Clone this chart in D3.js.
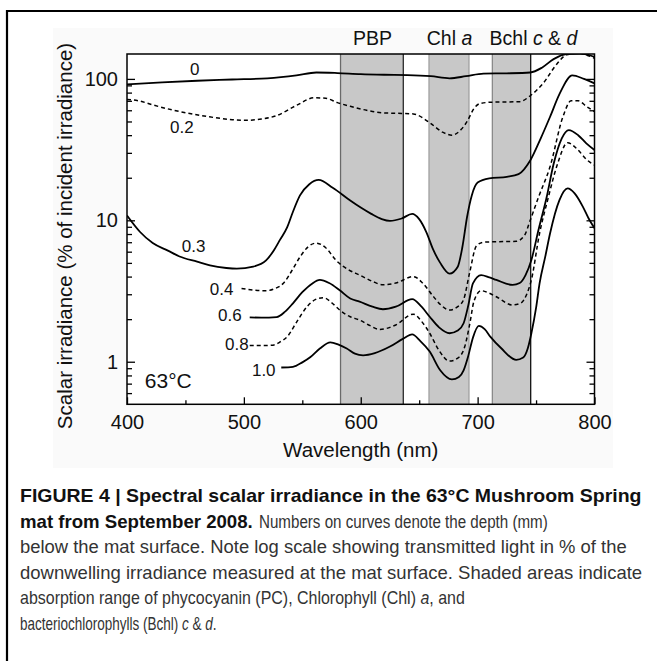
<!DOCTYPE html>
<html>
<head>
<meta charset="utf-8">
<script src="https://cdn.jsdelivr.net/npm/d3@7"></script>
<style>
html,body{margin:0;padding:0;background:#fff;}
svg{display:block;font-family:"Liberation Sans",Arial,Helvetica,sans-serif;}
</style>
</head>
<body>
<svg id="chart" width="657" height="661"></svg>
<script>
// ---------------- DATA ----------------
const depthLabels = ["0", "0.2", "0.3", "0.4", "0.6", "0.8", "1.0"];
const dashedDepth = [false, true, false, true, false, true, false];

const wl_0   = [400,430,460,490,520,545,562,580,600,620,640,660,676,690,705,725,745,755,765,776,788,796,800];
const irr_0  = [91.5,94.5,97,99,101,106,111,110,108,107,106.5,104.5,101,104.5,109,109.5,111,120,138,150,151,147,143];

const wl_02  = [400,410,422,440,451,470,490,502,515,528,545,560,570,580,591,605,619,635,645,659,670,678,686,691,697,702,713,736,745,756,768,776,785,800];
const irr_02 = [71.5,70,65.5,60,57.5,54,51.5,51,52,55,65,73.5,73,68,64,60,57.5,57,56.5,49,42,40,44,50,62,67,68.5,69,76,93,128,148,152,140];

const wl_03  = [400,411,422,435,445,460,471,485,494,508,519,526,531,537,542,548,556,564,576,591,600,609,618,625,635,644,650,656,662,668,676,683,687,691,695,700,710,725,735,745,754,762,770,781,791,800];
const irr_03 = [10.8,8.3,6.9,6.1,5.55,5.1,4.8,4.6,4.55,4.7,5.2,6.2,7.3,8.9,11.5,15,18,19.3,17,13.8,12.3,11.1,10.2,9.9,10.3,11.1,10.2,8.3,6.2,5.0,4.2,4.7,6.5,10.6,15,18.5,19.8,20.3,21.2,26.5,38,54,78,106,100,93];

const wl_04  = [498,510,519,527,534,541,548,555,562,570,579,590,599,610,619,630,645,653,662,669,676,683,688,693,699,705,715,733,740,745,752,762,773,780,786,793,800];
const irr_04 = [3.3,3.2,3.18,3.3,3.6,4.4,5.5,6.5,6.9,6.4,5.2,4.45,4.1,3.7,3.5,3.6,4.0,3.6,2.9,2.5,2.32,2.45,2.75,4.2,6.6,7.0,7.05,7.1,7.8,10,14.5,24,54,70,70,64,58.6];

const wl_06  = [505,515,528,535,542,550,558,565,573,582,591,599,610,619,630,644,652,659,667,676,683,688,692,696,703,710,716,730,736,741,746,752,759,765,772,778,786,793,800];
const irr_06 = [2.06,2.05,2.07,2.25,2.59,3.1,3.55,3.79,3.6,3.2,2.8,2.66,2.45,2.35,2.45,2.77,2.45,2.08,1.75,1.59,1.66,1.87,2.5,3.58,4.1,3.95,3.79,3.49,3.6,4.1,5.24,8.5,14.5,25,38,43.5,40,35,31.4];

const wl_08  = [505,515,525,531,537,545,554,561,568,575,582,591,599,608,616,630,645,652,659,667,676,683,689,693,697,703,710,716,730,737,742,746,753,760,768,777,785,793,800];
const irr_08 = [1.30,1.30,1.31,1.38,1.50,1.9,2.45,2.75,2.84,2.62,2.32,2.08,1.97,1.8,1.69,1.82,2.17,1.93,1.59,1.2,1.01,1.06,1.28,1.8,2.7,3.18,3.05,2.88,2.52,2.6,3.0,3.8,8.1,14,24.5,35.4,32,27,24.6];

const wl_10  = [532,542,550,557,565,574,581,588,595,602,612,625,636,644,651,659,668,678,684,688,692,696,701,706,711,720,733,739,743,746,750,753,758,762,770,777,783,790,795,800];
const irr_10 = [0.91,0.92,0.99,1.08,1.24,1.37,1.32,1.24,1.14,1.11,1.15,1.28,1.45,1.56,1.4,1.18,0.87,0.75,0.78,0.87,1.1,1.48,1.79,1.7,1.5,1.25,1.03,1.07,1.25,1.59,2.4,3.58,5.6,8.1,13.9,16.8,15.5,12.5,10.3,8.8];

const seriesWl  = [wl_0, wl_02, wl_03, wl_04, wl_06, wl_08, wl_10];
const seriesIrr = [irr_0, irr_02, irr_03, irr_04, irr_06, irr_08, irr_10];

// curve label anchors (data coordinates: wavelength, % irradiance)
const labelWl  = [458, 447, 457, 481, 488, 494, 517];
const labelIrr = [117.6, 45.9, 6.58, 3.30, 2.14, 1.334, 0.873];

// absorption bands
const bandNames = ["PBP", "Chl a", "Bchl c & d"];
const bandStart = [582.7, 658.4, 712.6];
const bandEnd   = [636.4, 692.6, 745.4];

const xTicksMajor = [400, 500, 600, 700, 800];
const xTicksMinor = [450, 550, 650, 750];
const yTicksMajor = [1, 10, 100];
const yTicksMinor = [0.6,0.7,0.8,0.9,2,3,4,5,6,7,8,9,20,30,40,50,60,70,80,90];

// ---------------- DRAW ----------------
const svg = d3.select("#chart");
const L = 127, R = 594.5, T = 54, B = 404.3;
const x = d3.scaleLinear().domain([400, 800]).range([L, R]);
const y = d3.scaleLog().domain([0.5, 150]).range([B, T]);

// page frame
svg.append("line").attr("x1", 7).attr("x2", 657).attr("y1", 11).attr("y2", 11)
  .attr("stroke", "#000").attr("stroke-width", 2.2);
svg.append("line").attr("x1", 7).attr("x2", 7).attr("y1", 10).attr("y2", 661)
  .attr("stroke", "#000").attr("stroke-width", 2.2);

// faint figure background
svg.append("rect").attr("x", 53).attr("y", 28).attr("width", 560).attr("height", 440)
  .attr("fill", "#fafafa");
svg.append("rect").attr("x", L).attr("y", T).attr("width", R - L).attr("height", B - T)
  .attr("fill", "#fff");

svg.append("clipPath").attr("id", "clip").append("rect")
  .attr("x", L).attr("y", T).attr("width", R - L).attr("height", B - T);

// bands
const bandL = ["#6a6a6a", "#a0a0a0", "#8a8a8a"];
const bandR = ["#2a2a2a", "#a0a0a0", "#111"];
bandNames.forEach((n, i) => {
  svg.append("rect").attr("x", x(bandStart[i])).attr("y", T)
    .attr("width", x(bandEnd[i]) - x(bandStart[i])).attr("height", B - T)
    .attr("fill", "#c8c8c8");
  svg.append("line").attr("x1", x(bandStart[i])).attr("x2", x(bandStart[i]))
    .attr("y1", T).attr("y2", B).attr("stroke", bandL[i]).attr("stroke-width", 1.3);
  svg.append("line").attr("x1", x(bandEnd[i])).attr("x2", x(bandEnd[i]))
    .attr("y1", T).attr("y2", B).attr("stroke", bandR[i]).attr("stroke-width", 1.3);
});

// band labels (names with italic letters)
const bl = svg.append("g").attr("font-size", 19.5).attr("fill", "#111").attr("text-anchor", "middle");
const bandLabelCx = [372.5, 449.5, 533.5];
bandNames.forEach((n, i) => {
  const t = bl.append("text").attr("x", bandLabelCx[i]).attr("y", 45);
  n.split(/(\b[acd]\b)/).forEach(part => {
    if (!part) return;
    const it = /^[acd]$/.test(part);
    t.append("tspan").attr("font-style", it ? "italic" : null).text(part);
  });
});

// curves
const line = d3.line().x(d => x(d[0])).y(d => y(d[1])).curve(d3.curveMonotoneX);
const cg = svg.append("g").attr("clip-path", "url(#clip)");
seriesWl.forEach((wl, i) => {
  const pts = wl.map((w, k) => [w, seriesIrr[i][k]]);
  cg.append("path").attr("d", line(pts)).attr("fill", "none")
    .attr("stroke", "#000")
    .attr("stroke-width", dashedDepth[i] ? 1.5 : 1.8)
    .attr("stroke-dasharray", dashedDepth[i] ? "4,3" : null)
    .attr("stroke-linejoin", "round");
});

// curve labels
const lg = svg.append("g").attr("font-size", 17).attr("fill", "#111").attr("text-anchor", "middle");
depthLabels.forEach((t, i) => {
  lg.append("text").attr("x", x(labelWl[i])).attr("y", y(labelIrr[i])).attr("dy", "0.36em").text(t);
});
svg.append("text").attr("x", x(435.3)).attr("y", y(0.743)).attr("dy", "0.36em")
  .attr("text-anchor", "middle").attr("font-size", 21).attr("fill", "#111").text("63°C");

// axes
function styleAxis(g) {
  g.select(".domain").remove();
  g.selectAll(".tick line").attr("stroke", "#000").attr("stroke-width", 1.3);
  g.selectAll(".tick text").attr("font-size", 20).attr("fill", "#111")
    .attr("font-family", "Liberation Sans, Arial, sans-serif");
}
svg.append("g").attr("transform", `translate(0,${B})`)
  .call(d3.axisBottom(x).tickValues(xTicksMajor).tickSize(-7).tickPadding(11).tickFormat(d3.format("d")))
  .call(styleAxis);
svg.append("g").attr("transform", `translate(0,${B})`)
  .call(d3.axisBottom(x).tickValues(xTicksMinor).tickSize(-4).tickFormat(""))
  .call(styleAxis);
svg.append("g").attr("transform", `translate(${L},0)`)
  .call(d3.axisLeft(y).tickValues(yTicksMajor).tickSize(-8).tickPadding(9).tickFormat(d3.format("d")))
  .call(styleAxis);
svg.append("g").attr("transform", `translate(${L},0)`)
  .call(d3.axisLeft(y).tickValues(yTicksMinor).tickSize(-5).tickFormat(""))
  .call(styleAxis);
svg.append("g").attr("transform", `translate(${R},0)`)
  .call(d3.axisRight(y).tickValues(yTicksMajor).tickSize(-8).tickFormat(""))
  .call(styleAxis);
svg.append("g").attr("transform", `translate(${R},0)`)
  .call(d3.axisRight(y).tickValues(yTicksMinor).tickSize(-5).tickFormat(""))
  .call(styleAxis);

// plot frame
svg.append("rect").attr("x", L).attr("y", T).attr("width", R - L).attr("height", B - T)
  .attr("fill", "none").attr("stroke", "#000").attr("stroke-width", 1.5);

// axis titles
svg.append("text").attr("x", (L + R) / 2).attr("y", 457).attr("text-anchor", "middle")
  .attr("font-size", 20.5).attr("fill", "#111").text("Wavelength (nm)");
svg.append("text").attr("transform", "translate(72,236) rotate(-90)").attr("text-anchor", "middle")
  .attr("font-size", 20.5).attr("fill", "#111").text("Scalar irradiance (% of incident irradiance)");

// caption: each run = [text, bold, italic]; each segment horizontally fitted to the reference width
const captionLines = [
  {y: 502,   x0: 20,  x1: 641.7, runs: [["FIGURE 4 | Spectral scalar irradiance in the 63°C Mushroom Spring", true, false]]},
  {y: 527.5, x0: 20,  x1: 253,   runs: [["mat from September 2008.", true, false]]},
  {y: 527.5, x0: 259, x1: 548,   runs: [["Numbers on curves denote the depth (mm)", false, false]]},
  {y: 553,   x0: 20,  x1: 627,   runs: [["below the mat surface. Note log scale showing transmitted light in % of the", false, false]]},
  {y: 578.5, x0: 20,  x1: 642.7, runs: [["downwelling irradiance measured at the mat surface. Shaded areas indicate", false, false]]},
  {y: 604,   x0: 20,  x1: 465,   runs: [["absorption range of phycocyanin (PC), Chlorophyll (Chl) ", false, false], ["a", false, true], [", and", false, false]]},
  {y: 629.5, x0: 20,  x1: 216.7, runs: [["bacteriochlorophylls (Bchl) ", false, false], ["c", false, true], [" & ", false, false], ["d", false, true], [".", false, false]]}
];
const cap = svg.append("g");
captionLines.forEach(ln => {
  const bold = ln.runs[0][1];
  const t = cap.append("text")
    .attr("font-size", bold ? 18 : 17.5)
    .attr("font-weight", bold ? "bold" : null)
    .attr("fill", bold ? "#111" : "#333")
    .attr("x", 0).attr("y", 0)
    .style("white-space", "pre");
  ln.runs.forEach(r => {
    t.append("tspan").attr("font-style", r[2] ? "italic" : null).text(r[0]);
  });
  const w = t.node().getComputedTextLength();
  const k = (ln.x1 - ln.x0) / w;
  t.attr("transform", `translate(${ln.x0},${ln.y}) scale(${k.toFixed(4)},1)`);
});
</script>
</body>
</html>
